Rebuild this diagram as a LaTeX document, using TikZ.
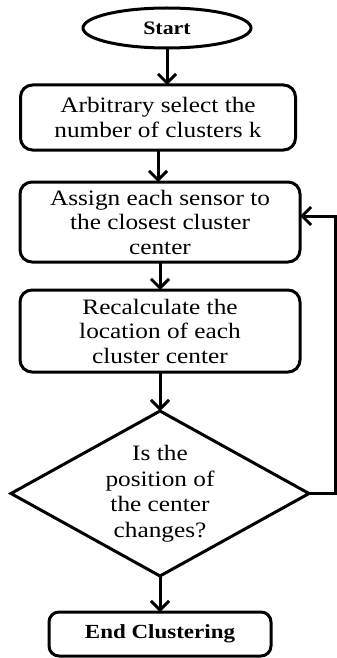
\documentclass[tikz,border=0pt]{standalone}
\usepackage{fontspec}
\setmainfont{Liberation Serif}[FakeStretch=1.15]
\usetikzlibrary{positioning, shapes.geometric, arrows.meta}
\tikzset{
    >={Straight Barb[length=9pt,width=18pt]},
    startstop/.style={ellipse, draw, line width=3pt, outer sep=0pt, minimum width=168pt, minimum height=40pt, inner sep=0pt, font=\fontsize{19}{24}\selectfont\bfseries},
    procbox/.style={rectangle, rounded corners=12pt, draw, line width=3pt, outer sep=0pt, align=center, minimum width=280pt, inner sep=0pt, font=\fontsize{22}{24.5}\selectfont},
    endbox/.style={rectangle, rounded corners=10pt, draw, line width=3pt, outer sep=0pt, minimum width=222pt, minimum height=44pt, inner sep=0pt, font=\fontsize{20}{24}\selectfont\bfseries},
    decide/.style={diamond, aspect=1.8, draw, line width=3pt, outer sep=0pt, align=center, minimum width=298pt, minimum height=165pt, inner sep=0pt, font=\fontsize{22}{25.5}\selectfont},
    flow/.style={->, line width=3pt},
}
\begin{document}
\begin{tikzpicture}[x=1pt, y=1pt]
        \useasboundingbox (0,0) rectangle (337,-658);
        \node [startstop] (start) at (167,-28) {Start};
        \node [procbox, minimum width=275pt, minimum height=65pt] (select) [below=37pt of start, xshift=-9pt] {Arbitrary select the\\number of clusters k};
        \node [procbox, minimum height=80pt] (assign) [below=32pt of select, xshift=2pt] {Assign each sensor to\\the closest cluster\\center};
        \node [procbox, minimum height=82pt] (recalc) [below=28pt of assign] {Recalculate the\\location of each\\cluster center};
        \node [decide] (changed) [below=39pt of recalc] {Is the\\position of\\the center\\changes?};
        \node [endbox] (finish) [below=36pt of changed] {End Clustering};
        \coordinate (loop) at (335,0 |- changed.east);
        \draw[flow] (start.south) -- (start.south |- select.north);
        \draw[flow] (select) -- (select |- assign.north);
        \draw[flow] (assign) -- (recalc);
        \draw[flow] (recalc) -- (changed);
        \draw[flow] (changed) -- (finish);
        \draw[flow] (changed.east) -- (loop) |- ([yshift=6pt]assign.east);
    \end{tikzpicture}
\end{document}
